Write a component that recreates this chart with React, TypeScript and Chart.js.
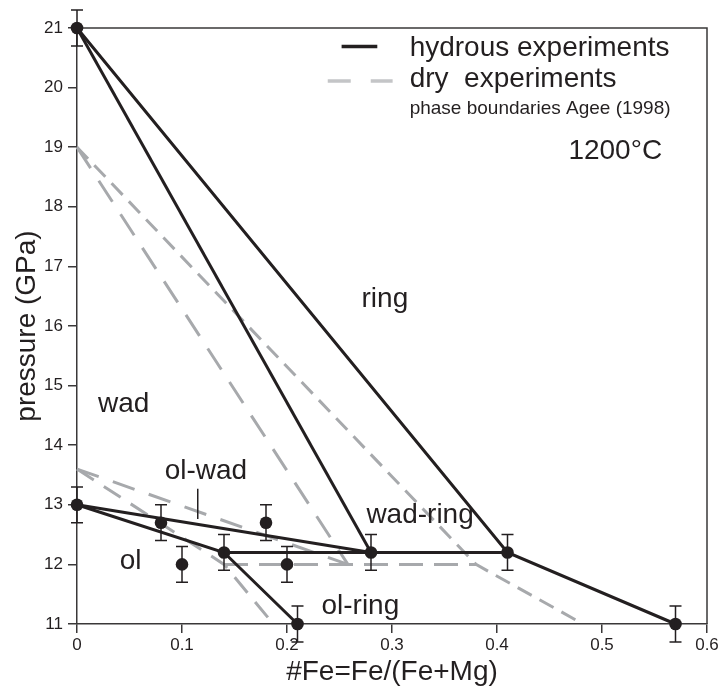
import React, { useEffect, useRef } from "react";
import { Chart, registerables } from "chart.js";

Chart.register(...registerables);

const INK = "#231f20";
const FRAME = "#3a3839";
const GRAY = "#a7a9ac";
const FONT = '"Liberation Sans", Arial, Helvetica, sans-serif';

// ---- axis ticks ----
const feTicks = [0, 0.1, 0.2, 0.3, 0.4, 0.5, 0.6];
const pressureTicks = [11, 12, 13, 14, 15, 16, 17, 18, 19, 20, 21];

// ---- experiments (hydrous) ----
const expFe = [0, 0, 0.08, 0.1, 0.14, 0.18, 0.2, 0.21, 0.28, 0.41, 0.57];
const expP = [21, 13, 12.7, 12.0, 12.2, 12.7, 12.0, 11.0, 12.2, 12.2, 11.0];
const expErr = [0.3, 0.3, 0.3, 0.3, 0.3, 0.3, 0.3, 0.3, 0.3, 0.3, 0.3];

// ---- hydrous phase boundaries ----
const hydRingInFe = [0, 0.28];
const hydRingInP = [21, 12.2];
const hydRingOutFe = [0, 0.41, 0.57];
const hydRingOutP = [21, 12.2, 11];
const hydWadFe = [0, 0.28];
const hydWadP = [13, 12.2];
const hydOlFe = [0, 0.14, 0.21];
const hydOlP = [13, 12.2, 11];
const hydTripleFe = [0.14, 0.41];
const hydTripleP = [12.2, 12.2];

// ---- dry phase boundaries, Agee (1998) ----
const dryRingOutFe = [0, 0.38, 0.482];
const dryRingOutP = [19, 12, 11];
const dryRingInFe = [0, 0.258];
const dryRingInP = [19, 12];
const dryWadFe = [0, 0.258];
const dryWadP = [13.6, 12];
const dryOlFe = [0, 0.14, 0.187];
const dryOlP = [13.6, 12, 11];
const dryTripleFe = [0.14, 0.38];
const dryTripleP = [12, 12];

// ---- pointer from "ol-wad" label ----
const pointerFe = [0.115, 0.115];
const pointerP = [13.27, 12.76];

// ---- region labels (anchor: left / baseline, data units) ----
const regionText = ["ring", "wad", "ol-wad", "ol", "ol-ring", "wad-ring"];
const regionFe = [0.271, 0.02, 0.0835, 0.0407, 0.2328, 0.2756];
const regionP = [16.32, 14.56, 13.44, 11.92, 11.17, 12.69];

const pts = (xs: number[], ys: number[]) => xs.map((x, i) => ({ x, y: ys[i] }));

const hyd = (xs: number[], ys: number[]) => ({
  data: pts(xs, ys),
  showLine: true,
  borderColor: INK,
  borderWidth: 3,
  pointRadius: 0,
  clip: false as any,
  order: 1,
});
const dry = (xs: number[], ys: number[], dash: number[]) => ({
  data: pts(xs, ys),
  showLine: true,
  borderColor: GRAY,
  borderWidth: 3,
  borderDash: dash,
  pointRadius: 0,
  clip: false as any,
  order: 2,
});

const framePlugin = {
  id: "frame",
  beforeDatasetsDraw(chart: any) {
    const { ctx, chartArea } = chart;
    ctx.save();
    ctx.strokeStyle = FRAME;
    ctx.lineWidth = 1.5;
    ctx.beginPath();
    ctx.moveTo(chartArea.left, chartArea.top);
    ctx.lineTo(chartArea.right, chartArea.top);
    ctx.lineTo(chartArea.right, chartArea.bottom);
    ctx.stroke();
    ctx.restore();
  },
};

const errorBarPlugin = {
  id: "errbars",
  afterDatasetsDraw(chart: any) {
    const { ctx } = chart;
    const xs = chart.scales.x;
    const ys = chart.scales.y;
    ctx.save();
    ctx.strokeStyle = INK;
    ctx.lineWidth = 1.5;
    expFe.forEach((fe, i) => {
      const px = xs.getPixelForValue(fe);
      const t = ys.getPixelForValue(expP[i] + expErr[i]);
      const b = ys.getPixelForValue(expP[i] - expErr[i]);
      ctx.beginPath();
      ctx.moveTo(px, t);
      ctx.lineTo(px, b);
      ctx.moveTo(px - 6, t);
      ctx.lineTo(px + 6, t);
      ctx.moveTo(px - 6, b);
      ctx.lineTo(px + 6, b);
      ctx.stroke();
    });
    ctx.restore();
  },
};

const textPlugin = {
  id: "texts",
  afterDraw(chart: any) {
    const { ctx } = chart;
    const xs = chart.scales.x;
    const ys = chart.scales.y;
    const X = (v: number) => xs.getPixelForValue(v);
    const Y = (v: number) => ys.getPixelForValue(v);
    ctx.save();
    ctx.fillStyle = INK;
    ctx.textAlign = "left";
    ctx.textBaseline = "alphabetic";
    ctx.font = `28px ${FONT}`;
    regionText.forEach((t, i) => ctx.fillText(t, X(regionFe[i]), Y(regionP[i])));

    // legend
    ctx.lineWidth = 3.5;
    ctx.strokeStyle = INK;
    ctx.setLineDash([]);
    ctx.beginPath();
    ctx.moveTo(X(0.252), Y(20.69));
    ctx.lineTo(X(0.286), Y(20.69));
    ctx.stroke();
    ctx.strokeStyle = "#c4c5c7";
    ctx.setLineDash([23, 20]);
    ctx.beginPath();
    ctx.moveTo(X(0.2388), Y(20.11));
    ctx.lineTo(X(0.3006), Y(20.11));
    ctx.stroke();
    ctx.setLineDash([]);

    ctx.font = `28px ${FONT}`;
    ctx.fillText("hydrous experiments", X(0.3168), Y(20.525));
    ctx.fillText("dry  experiments", X(0.3168), Y(20.01));
    ctx.font = `19px ${FONT}`;
    ctx.fillText("phase boundaries Agee (1998)", X(0.3168), Y(19.56));
    ctx.font = `28px ${FONT}`;
    ctx.fillText("1200°C", X(0.468), Y(18.8));
    ctx.restore();
  },
};

export default function App() {
  const ref = useRef<HTMLCanvasElement>(null);
  useEffect(() => {
    if (!ref.current) return;
    Chart.defaults.font.family = FONT;
    Chart.defaults.color = INK;
    const chart = new Chart(ref.current, {
      type: "scatter",
      data: {
        datasets: [
          {
            data: pts(expFe, expP),
            showLine: false,
            pointRadius: 6.3,
            pointBackgroundColor: INK,
            pointBorderWidth: 0,
            clip: false as any,
            order: 0,
          },
          hyd(hydRingInFe, hydRingInP),
          hyd(hydRingOutFe, hydRingOutP),
          hyd(hydWadFe, hydWadP),
          hyd(hydOlFe, hydOlP),
          hyd(hydTripleFe, hydTripleP),
          {
            data: pts(pointerFe, pointerP),
            showLine: true,
            borderColor: INK,
            borderWidth: 1.5,
            pointRadius: 0,
            order: 1,
          },
          dry(dryRingOutFe, dryRingOutP, [16, 9]),
          dry(dryRingInFe, dryRingInP, [25, 15]),
          dry(dryWadFe, dryWadP, [23, 15]),
          dry(dryOlFe, dryOlP, [20, 12]),
          dry(dryTripleFe, dryTripleP, [24, 11]),
        ] as any,
      },
      options: {
        responsive: false,
        animation: false,
        events: [],
        layout: { padding: { left: 0, top: 28, right: 15, bottom: 0 } },
        plugins: { legend: { display: false }, tooltip: { enabled: false } },
        scales: {
          x: {
            type: "linear",
            min: 0,
            max: 0.6,
            afterBuildTicks: (s: any) => {
              s.ticks = feTicks.map((v) => ({ value: v }));
            },
            afterFit: (s: any) => {
              s.height = 65;
            },
            ticks: {
              font: { size: 17 },
              color: INK,
              padding: 2,
              callback: (v: any) => String(Math.round(Number(v) * 10) / 10),
            },
            grid: { drawOnChartArea: false, drawTicks: true, tickLength: 9, color: FRAME, lineWidth: 1.5 },
            border: { display: true, color: FRAME, width: 1.5 },
            title: {
              display: true,
              text: "#Fe=Fe/(Fe+Mg)",
              font: { size: 28 },
              color: INK,
              padding: { top: 0, bottom: 0 },
            },
          },
          y: {
            type: "linear",
            min: 11,
            max: 21,
            afterBuildTicks: (s: any) => {
              s.ticks = pressureTicks.map((v) => ({ value: v }));
            },
            afterFit: (s: any) => {
              s.width = 77;
            },
            ticks: { font: { size: 17 }, color: INK, padding: 5 },
            grid: { drawOnChartArea: false, drawTicks: true, tickLength: 9, color: FRAME, lineWidth: 1.5 },
            border: { display: true, color: FRAME, width: 1.5 },
            title: {
              display: true,
              text: "pressure (GPa)",
              font: { size: 28 },
              color: INK,
              padding: { top: 10, bottom: 0 },
            },
          },
        },
      },
      plugins: [framePlugin, errorBarPlugin, textPlugin],
    });
    return () => chart.destroy();
  }, []);
  return (
    <div style={{ position: "absolute", left: 0, top: 0, width: 722, height: 689, background: "#fff" }}>
      <canvas ref={ref} width={722} height={689} style={{ display: "block" }} />
    </div>
  );
}
